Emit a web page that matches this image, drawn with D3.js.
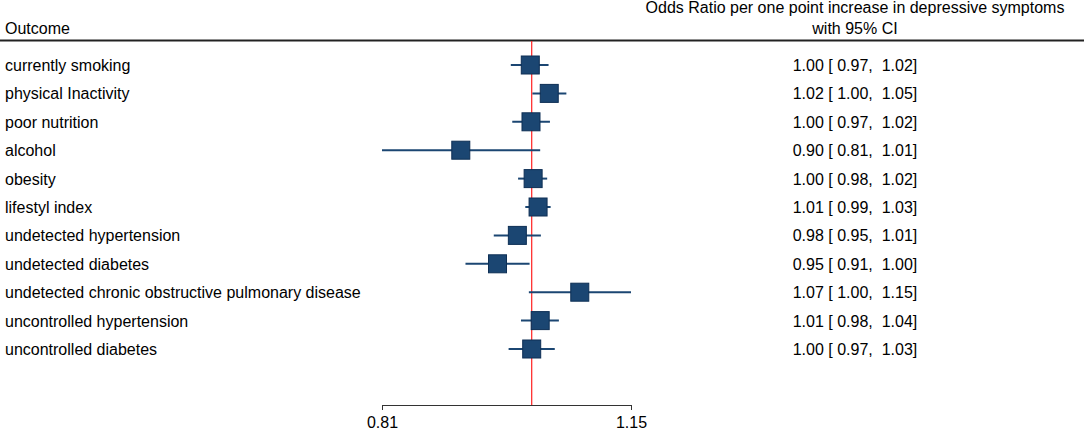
<!DOCTYPE html>
<html>
<head>
<meta charset="utf-8">
<script src="https://cdn.jsdelivr.net/npm/d3@7"></script>
<style>
  body { margin: 0; background: #fff; }
  svg { font-family: "Liberation Sans", Arial, sans-serif; }
  text { white-space: pre; }
</style>
</head>
<body>
<div class="chart"></div>
<script>
// data
var outcomes = [
  "currently smoking",
  "physical Inactivity",
  "poor nutrition",
  "alcohol",
  "obesity",
  "lifestyl index",
  "undetected hypertension",
  "undetected diabetes",
  "undetected chronic obstructive pulmonary disease",
  "uncontrolled hypertension",
  "uncontrolled diabetes"
];
var oddsRatio = [0.998, 1.025, 0.999, 0.905, 1.002, 1.009, 0.980, 0.953, 1.070, 1.012, 1.000];
var ciLow     = [0.971, 1.001, 0.973, 0.810, 0.981, 0.991, 0.948, 0.911, 0.996, 0.985, 0.968];
var ciHigh    = [1.024, 1.050, 1.026, 1.012, 1.022, 1.027, 1.013, 0.997, 1.150, 1.039, 1.033];
var ciText = [
  "1.00 [ 0.97,  1.02]",
  "1.02 [ 1.00,  1.05]",
  "1.00 [ 0.97,  1.02]",
  "0.90 [ 0.81,  1.01]",
  "1.00 [ 0.98,  1.02]",
  "1.01 [ 0.99,  1.03]",
  "0.98 [ 0.95,  1.01]",
  "0.95 [ 0.91,  1.00]",
  "1.07 [ 1.00,  1.15]",
  "1.01 [ 0.98,  1.04]",
  "1.00 [ 0.97,  1.03]"
];
var axisTicks = [0.81, 1.15];

var svgWidth = 1084;
var svgHeight = 430;
var markColor = "#1b4672";

var svg = d3.select(".chart")
  .append("svg")
  .attr("width", svgWidth)
  .attr("height", svgHeight);

var rows = outcomes.map(function(d, i) {
  return { name: d, or: oddsRatio[i], lo: ciLow[i], hi: ciHigh[i], txt: ciText[i] };
});

// scales
var xScale = d3.scaleLog()
  .domain([0.81, 1.15])
  .range([382, 631]);

var yScale = d3.scalePoint()
  .domain(outcomes)
  .range([65, 349]);

// header
svg.append("text")
  .attr("x", 5).attr("y", 34)
  .attr("font-size", "16px")
  .text("Outcome");

svg.append("text")
  .attr("x", 855).attr("y", 13)
  .attr("text-anchor", "middle")
  .attr("font-size", "16px")
  .text("Odds Ratio per one point increase in depressive symptoms");

svg.append("text")
  .attr("x", 855).attr("y", 34)
  .attr("text-anchor", "middle")
  .attr("font-size", "16px")
  .text("with 95% CI");

svg.append("line")
  .attr("x1", 0).attr("x2", svgWidth)
  .attr("y1", 40.5).attr("y2", 40.5)
  .attr("stroke", "#222")
  .attr("stroke-width", 2);

// axis
var axisY = 405;
var xAxis = d3.axisBottom(xScale)
  .tickValues(axisTicks)
  .tickFormat(d3.format(".2f"))
  .tickSize(5)
  .tickSizeOuter(5)
  .tickPadding(7);

var axisG = svg.append("g")
  .attr("transform", `translate(0, ${axisY})`)
  .call(xAxis);
axisG.select(".domain").attr("stroke", "#333");
axisG.selectAll(".tick line").attr("stroke", "#333");
axisG.selectAll(".tick text")
  .attr("font-size", "16px")
  .attr("font-family", "Liberation Sans, Arial, sans-serif")
  .attr("fill", "#000");

// reference line at OR = 1
svg.append("line")
  .attr("x1", xScale(1)).attr("x2", xScale(1))
  .attr("y1", 41).attr("y2", axisY)
  .attr("stroke", "#ff2020")
  .attr("stroke-width", 1.2);

// CI lines
svg.append("g").selectAll("line")
  .data(rows)
  .enter()
  .append("line")
  .attr("x1", d => xScale(d.lo))
  .attr("x2", d => xScale(d.hi))
  .attr("y1", d => yScale(d.name))
  .attr("y2", d => yScale(d.name))
  .attr("stroke", markColor)
  .attr("stroke-width", 2);

// squares
var boxSize = 18;
svg.append("g").selectAll("rect")
  .data(rows)
  .enter()
  .append("rect")
  .attr("x", d => xScale(d.or) - boxSize / 2)
  .attr("y", d => yScale(d.name) - boxSize / 2)
  .attr("width", boxSize)
  .attr("height", boxSize)
  .attr("fill", markColor)
  .attr("stroke", "#0e2f55")
  .attr("stroke-width", 1);

// left labels
svg.append("g").selectAll("text")
  .data(rows)
  .enter()
  .append("text")
  .attr("x", 5)
  .attr("y", d => yScale(d.name) + 6)
  .attr("font-size", "16px")
  .text(d => d.name);

// right estimates
svg.append("g").selectAll("text")
  .data(rows)
  .enter()
  .append("text")
  .attr("x", 855)
  .attr("y", d => yScale(d.name) + 6)
  .attr("text-anchor", "middle")
  .attr("font-size", "16px")
  .text(d => d.txt);
</script>
</body>
</html>
